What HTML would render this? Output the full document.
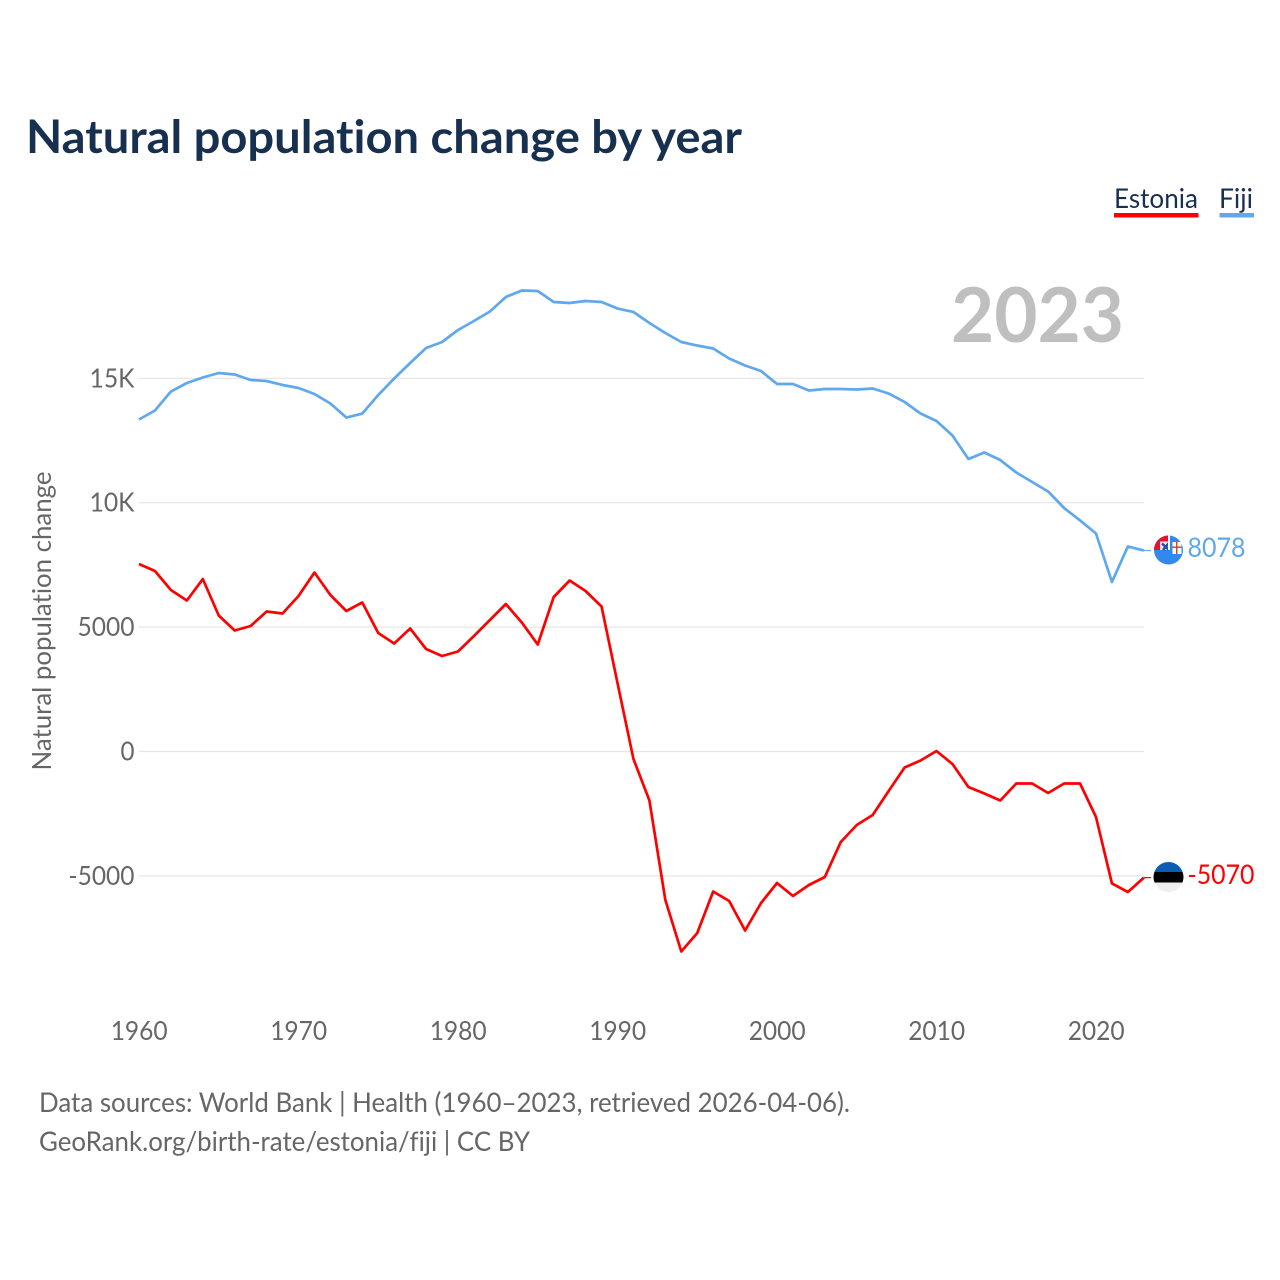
<!DOCTYPE html>
<html lang="en">
<head>
<meta charset="utf-8">
<title>Natural population change by year</title>
<style>
html,body{margin:0;padding:0;background:#fff;width:1280px;height:1280px;overflow:hidden}
svg{display:block}
text{font-family:"Lato","Carlito","Liberation Sans",sans-serif;font-variant-ligatures:none;font-feature-settings:"liga" 0,"clig" 0}
</style>
</head>
<body>
<svg id="chart" xmlns="http://www.w3.org/2000/svg" width="1280" height="1280" viewBox="0 0 1280 1280">
  <rect x="0" y="0" width="1280" height="1280" fill="#ffffff"/>
  <text x="26" y="153" font-size="46" font-weight="700" fill="#18304f" textLength="716" lengthAdjust="spacingAndGlyphs">Natural population change by year</text>
  <text x="1114" y="208" font-size="27" fill="#18304f" textLength="84" lengthAdjust="spacingAndGlyphs">Estonia</text>
  <rect x="1114" y="213" width="84.500" height="4.500" fill="#ff0000"/>
  <text x="1219" y="208" font-size="27" fill="#18304f" textLength="34" lengthAdjust="spacingAndGlyphs">Fiji</text>
  <rect x="1219.500" y="213" width="34.500" height="4.500" fill="#5fa8ee"/>
  <g id="grid-layer"></g>
  <text x="1124" y="342" text-anchor="end" font-size="76" font-weight="700" fill="#bfbfbf" textLength="173" lengthAdjust="spacingAndGlyphs">2023</text>
  <g id="tick-layer"></g>
  <text transform="translate(51 621) rotate(-90)" text-anchor="middle" font-size="26" fill="#666666" textLength="299" lengthAdjust="spacingAndGlyphs">Natural population change</text>
  <g id="series-layer"></g>

  <defs>
    <clipPath id="fiji-clip"><circle cx="1168.500" cy="550" r="14.500"/></clipPath>
    <clipPath id="estonia-clip"><circle cx="1168.500" cy="877" r="15"/></clipPath>
  </defs>
  <g clip-path="url(#fiji-clip)">
    <rect x="1153" y="535" width="31" height="31" fill="#3388ee"/>
    <rect x="1153" y="535" width="15.500" height="15" fill="#e8112d"/>
    <rect x="1160" y="541.500" width="8.500" height="8.500" fill="#f2e6e6"/>
    <path d="M1162 543.500 L1169 550 M1169 543 L1163 550" stroke="#2b4f9e" stroke-width="2.500" fill="none"/>
    <rect x="1168" y="535" width="2" height="15" fill="#f4f8fd"/>
    <rect x="1172.500" y="542" width="9" height="12" fill="#ffffff"/>
    <rect x="1172.500" y="546.500" width="9" height="1.500" fill="#d8452e"/>
    <rect x="1176" y="542" width="1.500" height="12" fill="#d8452e"/>
  </g>
  <g clip-path="url(#estonia-clip)">
    <rect x="1153" y="861" width="31" height="11" fill="#0a5cb5"/>
    <rect x="1153" y="872" width="31" height="10.500" fill="#000000"/>
    <rect x="1153" y="882.500" width="31" height="11" fill="#eeeeee"/>
  </g>
  <text x="1187.500" y="557" font-size="27" fill="#5fa8ee" textLength="58" lengthAdjust="spacingAndGlyphs">8078</text>
  <text x="1187.500" y="884" font-size="27" fill="#ff0000" textLength="67" lengthAdjust="spacingAndGlyphs">-5070</text>

  <text x="39" y="1112" font-size="27" fill="#666666" textLength="811" lengthAdjust="spacingAndGlyphs">Data sources: World Bank | Health (1960–2023, retrieved 2026-04-06).</text>
  <text x="39" y="1151" font-size="27" fill="#666666" textLength="491" lengthAdjust="spacingAndGlyphs">GeoRank.org/birth-rate/estonia/fiji | CC BY</text>
</svg>
<script>
const startYear = 1960;
const fijiValues = [13344,13706,14469,14811,15032,15213,15153,14932,14891,14731,14610,14369,13987,13424,13585,14329,14992,15615,16218,16459,16941,17303,17685,18268,18529,18509,18067,18027,18107,18067,17805,17665,17223,16821,16459,16318,16198,15796,15514,15293,14771,14771,14510,14570,14570,14550,14590,14389,14048,13585,13284,12701,11756,12018,11716,11214,10832,10450,9787,9285,8762,6813,8240,8078];
const estoniaValues = [7536,7255,6491,6069,6933,5466,4863,5044,5627,5547,6250,7195,6290,5647,5989,4763,4341,4944,4120,3838,4019,4642,5285,5928,5185,4301,6210,6873,6451,5828,2753,-301,-1969,-5969,-8039,-7295,-5627,-6009,-7195,-6089,-5285,-5808,-5366,-5044,-3637,-2954,-2552,-1588,-643,-362,20,-502,-1427,-1688,-1969,-1286,-1286,-1668,-1286,-1286,-2633,-5305,-5647,-5070];
const yTickValues = [15000,10000,5000,0,-5000];
const yTickLabels = ["15K","10K","5000","0","-5000"];
const xTickValues = [1960,1970,1980,1990,2000,2010,2020];
const xTickLabels = ["1960","1970","1980","1990","2000","2010","2020"];

const NS = "http://www.w3.org/2000/svg";
function xScale(year){ return 139 + (year - 1960) * 15.95; }
function yScale(value){ return 751.5 - value * 0.02488; }
function labelWidth(label){ return label.length === 1 ? 14 : label.length === 3 ? 45 : label.length === 4 ? 57 : 66; }

const gridLayer = document.getElementById("grid-layer");
const tickLayer = document.getElementById("tick-layer");
const seriesLayer = document.getElementById("series-layer");

yTickValues.forEach(function(v, i){
  const line = document.createElementNS(NS, "line");
  
  
  line.setAttribute("x1", 139);
  line.setAttribute("x2", 1144);
  line.setAttribute("y1", yScale(v));
  line.setAttribute("y2", yScale(v));
  line.setAttribute("stroke", "#e6e6e6");
  line.setAttribute("stroke-width", "1.200");
  gridLayer.appendChild(line);

  const t = document.createElementNS(NS, "text");
  
  
  t.setAttribute("x", 134.5);
  t.setAttribute("y", yScale(v) + 9);
  t.setAttribute("text-anchor", "end");
  t.setAttribute("font-size", "26");
  t.setAttribute("fill", "#666666");
  t.setAttribute("textLength", labelWidth(yTickLabels[i]));
  t.setAttribute("lengthAdjust", "spacingAndGlyphs");
  t.textContent = yTickLabels[i];
  tickLayer.appendChild(t);
});

xTickValues.forEach(function(yr, i){
  const t = document.createElementNS(NS, "text");
  
  
  t.setAttribute("x", xScale(yr) + 0.2);
  t.setAttribute("y", 1040);
  t.setAttribute("text-anchor", "middle");
  t.setAttribute("font-size", "26");
  t.setAttribute("fill", "#666666");
  t.setAttribute("textLength", labelWidth(xTickLabels[i]));
  t.setAttribute("lengthAdjust", "spacingAndGlyphs");
  t.textContent = xTickLabels[i];
  tickLayer.appendChild(t);
});

function pathFor(values){
  return values.map(function(v, i){
    return (i ? "L" : "M") + xScale(startYear + i).toFixed(2) + " " + yScale(v).toFixed(2);
  }).join(" ");
}

const fijiLine = document.createElementNS(NS, "path");


fijiLine.setAttribute("d", pathFor(fijiValues));
fijiLine.setAttribute("fill", "none");
fijiLine.setAttribute("stroke", "#5fa8ee");
fijiLine.setAttribute("stroke-width", "2.7");
fijiLine.setAttribute("stroke-linejoin", "round");
seriesLayer.appendChild(fijiLine);

const estoniaLine = document.createElementNS(NS, "path");


estoniaLine.setAttribute("d", pathFor(estoniaValues));
estoniaLine.setAttribute("fill", "none");
estoniaLine.setAttribute("stroke", "#ff0000");
estoniaLine.setAttribute("stroke-width", "2.7");
estoniaLine.setAttribute("stroke-linejoin", "round");
seriesLayer.appendChild(estoniaLine);

const fijiConnector = document.createElementNS(NS, "line");


fijiConnector.setAttribute("x1", xScale(2023));
fijiConnector.setAttribute("x2", 1151);
fijiConnector.setAttribute("y1", yScale(fijiValues[fijiValues.length - 1]));
fijiConnector.setAttribute("y2", yScale(fijiValues[fijiValues.length - 1]));
fijiConnector.setAttribute("stroke", "#5fa8ee");
fijiConnector.setAttribute("stroke-width", "1.200");
seriesLayer.appendChild(fijiConnector);

const estoniaConnector = document.createElementNS(NS, "line");


estoniaConnector.setAttribute("x1", xScale(2023));
estoniaConnector.setAttribute("x2", 1151);
estoniaConnector.setAttribute("y1", yScale(estoniaValues[estoniaValues.length - 1]));
estoniaConnector.setAttribute("y2", yScale(estoniaValues[estoniaValues.length - 1]));
estoniaConnector.setAttribute("stroke", "#ff0000");
estoniaConnector.setAttribute("stroke-width", "1.200");
seriesLayer.appendChild(estoniaConnector);
</script>
</body>
</html>
